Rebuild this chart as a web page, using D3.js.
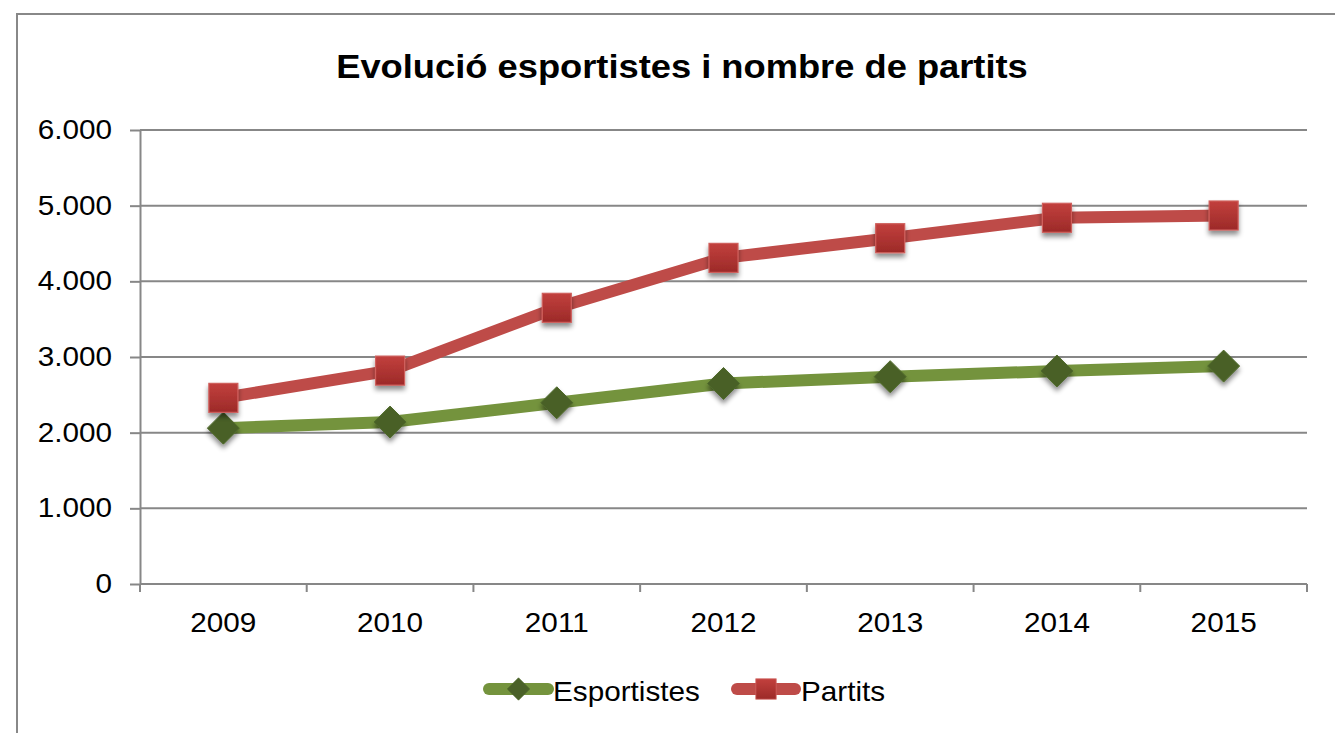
<!DOCTYPE html>
<html lang="ca">
<head>
    <meta charset="UTF-8">
    <script src="https://d3js.org/d3.v7.min.js"></script>
    <title>Evolució esportistes i nombre de partits</title>
    <style>
        body { margin: 0; background: #fff; }
        text { font-family: "Liberation Sans", Arial, sans-serif; fill: #000; }
        .grid line { stroke: #878787; stroke-width: 2px; }
        .axis path, .axis line { stroke: #878787; stroke-width: 2px; }
    </style>
</head>
<body>
    <div id="chart"></div>
<script>
    // data
    var years = ["2009", "2010", "2011", "2012", "2013", "2014", "2015"];
    var esportistes = [2060, 2140, 2395, 2650, 2740, 2815, 2880];
    var partits = [2460, 2820, 3650, 4310, 4570, 4840, 4870];
    var yTicks = [0, 1000, 2000, 3000, 4000, 5000, 6000];
    var title = "Evolució esportistes i nombre de partits";

    var W = 1335, H = 733;
    var plotLeft = 140, plotRight = 1307, plotTop = 130, plotBottom = 584;
    var stretch = 1.1; // the text in the picture is a bit wider than tall

    var svg = d3.select("#chart").append("svg")
        .attr("width", W).attr("height", H);

    var defs = svg.append("defs");
    var sh = defs.append("filter").attr("id", "shadow")
        .attr("x", "-50%").attr("y", "-50%").attr("width", "200%").attr("height", "200%");
    sh.append("feDropShadow").attr("dx", 0).attr("dy", 4).attr("stdDeviation", 2.5)
        .attr("flood-color", "#000").attr("flood-opacity", 0.45);

    var grad = defs.append("linearGradient").attr("id", "redGrad")
        .attr("x1", 0).attr("y1", 0).attr("x2", 0).attr("y2", 1);
    grad.append("stop").attr("offset", "0%").attr("stop-color", "#c2403d");
    grad.append("stop").attr("offset", "100%").attr("stop-color", "#9c2a28");

    // chart frame
    svg.append("rect").attr("x", 17).attr("y", 14)
        .attr("width", 1400).attr("height", 800)
        .attr("fill", "none").attr("stroke", "#888").attr("stroke-width", 2);

    svg.append("text")
        .attr("transform", "translate(682,78) scale(" + stretch + ",1)")
        .attr("text-anchor", "middle")
        .style("font-size", "33px").style("font-weight", "bold")
        .text(title);

    var x = d3.scaleBand().domain(years).range([plotLeft, plotRight]);
    var y = d3.scaleLinear().domain([0, 6000]).range([plotBottom, plotTop]);
    var cx = function(d) { return x(d) + x.bandwidth() / 2; };

    var loc = d3.formatLocale({decimal: ",", thousands: ".", grouping: [3], currency: ["", " €"]});
    var fmt = loc.format(",d");

    // gridlines
    svg.append("g").attr("class", "grid")
        .selectAll("line").data(yTicks.filter(function(d) { return d > 0; })).enter()
        .append("line")
        .attr("x1", plotLeft).attr("x2", plotRight)
        .attr("y1", function(d) { return y(d); }).attr("y2", function(d) { return y(d); });

    // y axis
    var yAxis = svg.append("g").attr("class", "axis")
        .attr("transform", "translate(" + plotLeft + ",0)")
        .call(d3.axisLeft(y).tickValues(yTicks).tickFormat(fmt).tickSize(10).tickSizeOuter(0).tickPadding(15.5));
    yAxis.selectAll("text").style("font-size", "27px")
        .attr("transform", "scale(" + stretch + ",1)");

    // x axis: labels centred in bands, ticks at band edges
    var xAxis = svg.append("g").attr("class", "axis")
        .attr("transform", "translate(0," + plotBottom + ")")
        .call(d3.axisBottom(x).tickSize(0).tickPadding(29));
    xAxis.select(".domain").attr("d", "M" + plotLeft + ",0H" + plotRight);
    xAxis.selectAll("text").style("font-size", "27px")
        .attr("transform", "scale(" + stretch + ",1)");
    var edges = years.map(function(d) { return x(d); }).concat([plotRight]);
    xAxis.selectAll("line.edge").data(edges).enter().append("line")
        .attr("class", "edge")
        .attr("x1", function(d) { return d; }).attr("x2", function(d) { return d; })
        .attr("y1", 0).attr("y2", 8);

    var line = d3.line()
        .x(function(d, i) { return cx(years[i]); })
        .y(function(d) { return y(d); });

    var series = [
        {name: "Esportistes", values: esportistes, color: "#74933d", marker: "diamond"},
        {name: "Partits", values: partits, color: "#be4b48", marker: "square"}
    ];

    function drawMarker(g, type) {
        if (type === "diamond") {
            g.append("path").attr("d", "M0,-16L16,0L0,16L-16,0Z")
                .attr("fill", "#4a6128").attr("stroke", "#4f6a2b").attr("stroke-width", 1);
        } else {
            g.append("rect").attr("x", -14.5).attr("y", -14.5)
                .attr("width", 29).attr("height", 29)
                .attr("fill", "url(#redGrad)").attr("stroke", "#cf5f5c").attr("stroke-width", 1.2);
        }
    }

    series.forEach(function(s) {
        svg.append("path").datum(s.values)
            .attr("fill", "none").attr("stroke", s.color)
            .attr("stroke-width", 12).attr("stroke-linejoin", "round").attr("stroke-linecap", "round")
            .attr("d", line);
        s.values.forEach(function(v, i) {
            var g = svg.append("g")
                .attr("transform", "translate(" + cx(years[i]) + "," + y(v) + ")")
                .attr("filter", "url(#shadow)");
            drawMarker(g, s.marker);
        });
    });

    // legend
    var legend = [
        {s: series[0], x0: 489, x1: 548, text: 553},
        {s: series[1], x0: 737, x1: 795, text: 801}
    ];
    legend.forEach(function(l) {
        var ly = 689;
        svg.append("line").attr("x1", l.x0).attr("x2", l.x1).attr("y1", ly).attr("y2", ly)
            .attr("stroke", l.s.color).attr("stroke-width", 12).attr("stroke-linecap", "round");
        var g = svg.append("g").attr("transform", "translate(" + ((l.x0 + l.x1) / 2) + "," + ly + ") scale(0.7)");
        drawMarker(g, l.s.marker);
        svg.append("text")
            .attr("transform", "translate(" + l.text + ",701) scale(" + stretch + ",1)")
            .style("font-size", "27px").text(l.s.name);
    });
</script>
</body>
</html>
